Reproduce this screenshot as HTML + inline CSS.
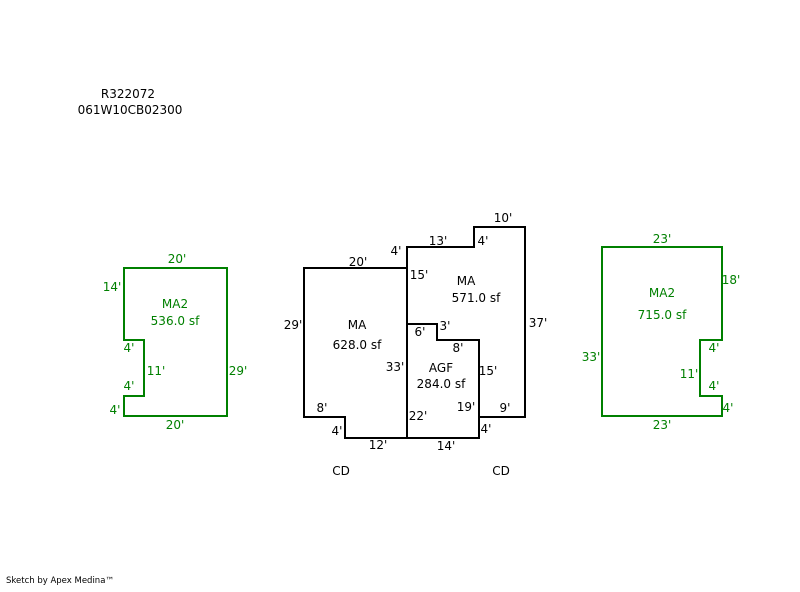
<!DOCTYPE html>
<html><head><meta charset="utf-8"><style>
html,body{margin:0;padding:0;background:#fff}
svg text{font-family:"DejaVu Sans","Liberation Sans",sans-serif;font-size:12px}
</style></head><body>
<svg width="800" height="587" xmlns="http://www.w3.org/2000/svg">
<rect width="800" height="587" fill="#fff"/>
<text x="128" y="98" text-anchor="middle" fill="#000">R322072</text>
<text x="130" y="114" text-anchor="middle" fill="#000">061W10CB02300</text>

<g fill="none" stroke="#008000" stroke-width="2">
<path d="M124 268 H227 V416 H124 V396 H144 V340 H124 Z"/>
<path d="M602 247 H722 V340 H700 V396 H722 V416 H602 Z"/>
</g>
<g fill="#008000">
<text x="177" y="263" text-anchor="middle">20'</text>
<text x="112" y="291" text-anchor="middle">14'</text>
<text x="175" y="308" text-anchor="middle">MA2</text>
<text x="175" y="325" text-anchor="middle">536.0 sf</text>
<text x="129" y="352" text-anchor="middle">4'</text>
<text x="156" y="375" text-anchor="middle">11'</text>
<text x="129" y="390" text-anchor="middle">4'</text>
<text x="115" y="414" text-anchor="middle">4'</text>
<text x="238" y="375" text-anchor="middle">29'</text>
<text x="175" y="429" text-anchor="middle">20'</text>

<text x="662" y="243" text-anchor="middle">23'</text>
<text x="731" y="284" text-anchor="middle">18'</text>
<text x="662" y="297" text-anchor="middle">MA2</text>
<text x="662" y="319" text-anchor="middle">715.0 sf</text>
<text x="591" y="361" text-anchor="middle">33'</text>
<text x="714" y="352" text-anchor="middle">4'</text>
<text x="689" y="378" text-anchor="middle">11'</text>
<text x="714" y="390" text-anchor="middle">4'</text>
<text x="728" y="412" text-anchor="middle">4'</text>
<text x="662" y="429" text-anchor="middle">23'</text>
</g>

<g fill="none" stroke="#000" stroke-width="2">
<path d="M304 268 H407 V438 H345 V417 H304 Z"/>
<path d="M407 268 V247 H474 V227 H525 V417 H479"/>
<path d="M407 324 H437 V340 H479 V438 H407"/>
</g>
<g fill="#000">
<text x="358" y="266" text-anchor="middle">20'</text>
<text x="396" y="255" text-anchor="middle">4'</text>
<text x="438" y="245" text-anchor="middle">13'</text>
<text x="483" y="245" text-anchor="middle">4'</text>
<text x="503" y="222" text-anchor="middle">10'</text>
<text x="419" y="279" text-anchor="middle">15'</text>
<text x="466" y="285" text-anchor="middle">MA</text>
<text x="476" y="302" text-anchor="middle">571.0 sf</text>
<text x="538" y="327" text-anchor="middle">37'</text>
<text x="293" y="329" text-anchor="middle">29'</text>
<text x="357" y="329" text-anchor="middle">MA</text>
<text x="357" y="349" text-anchor="middle">628.0 sf</text>
<text x="420" y="336" text-anchor="middle">6'</text>
<text x="445" y="330" text-anchor="middle">3'</text>
<text x="458" y="352" text-anchor="middle">8'</text>
<text x="395" y="371" text-anchor="middle">33'</text>
<text x="441" y="372" text-anchor="middle">AGF</text>
<text x="441" y="388" text-anchor="middle">284.0 sf</text>
<text x="488" y="375" text-anchor="middle">15'</text>
<text x="322" y="412" text-anchor="middle">8'</text>
<text x="466" y="411" text-anchor="middle">19'</text>
<text x="505" y="412" text-anchor="middle">9'</text>
<text x="418" y="420" text-anchor="middle">22'</text>
<text x="337" y="435" text-anchor="middle">4'</text>
<text x="486" y="433" text-anchor="middle">4'</text>
<text x="378" y="449" text-anchor="middle">12'</text>
<text x="446" y="450" text-anchor="middle">14'</text>
<text x="341" y="475" text-anchor="middle">CD</text>
<text x="501" y="475" text-anchor="middle">CD</text>
<text x="6" y="583" style="font-size:8.5px">Sketch by Apex Medina™</text>
</g>
</svg>
</body></html>
